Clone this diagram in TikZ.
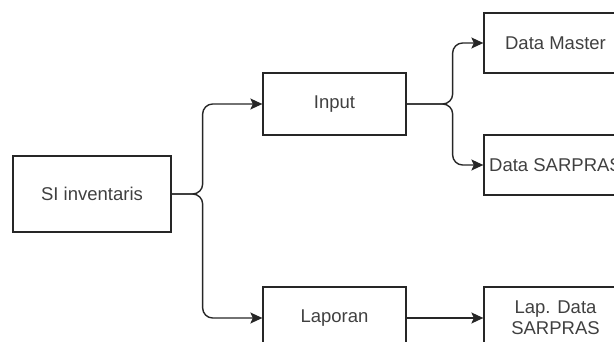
\documentclass[tikz,border=0pt]{standalone}
\usepackage{fontspec}
\setmainfont{Liberation Sans}
\usepackage{tikz}
\usetikzlibrary{arrows.meta}

\begin{document}
\begin{tikzpicture}[x=1pt, y=-1pt,
	  blok/.style={draw=black!85, line width=1.3pt, minimum width=143pt, minimum height=62pt,
	    inner sep=0pt, align=center, text=black!75, font=\fontsize{18.5}{21}\selectfont},
	  panah/.style={draw=black!85, line width=1.4pt, rounded corners=10pt,
	    -{Stealth[length=12pt, width=11pt, inset=2.5pt]}}]
	  \useasboundingbox (0, 0) rectangle (614, 342);
	  \clip (0, 0) rectangle (614, 342);
	  % kotak-kotak
	  \node[blok, minimum width=158pt, minimum height=76pt] (si) at (92, 194) {SI inventaris};
	  \node[blok] (input) at (334.5, 104) {Input};
	  \node[blok] (laporan) at (334.5, 318) {Laporan};
	  \node[blok, minimum height=60pt] (master) at (555.5, 43) {Data Master};
	  \node[blok, minimum height=60pt] (sarpras) at (555.5, 165) {Data SARPRAS};
	  \node[blok] (lap) at (555.5, 318) {Lap. Data\\SARPRAS};
	  % panah
	  \draw[panah] (si.east) -- ++(31, 0) |- (input.west);
	  \draw[panah] (si.east) -- ++(31, 0) |- (laporan.west);
	  \draw[panah] (input.east) -- ++(46, 0) |- (master.west);
	  \draw[panah] (input.east) -- ++(46, 0) |- (sarpras.west);
	  \draw[panah] (laporan.east) -- (lap.west);
	\end{tikzpicture}
\end{document}
